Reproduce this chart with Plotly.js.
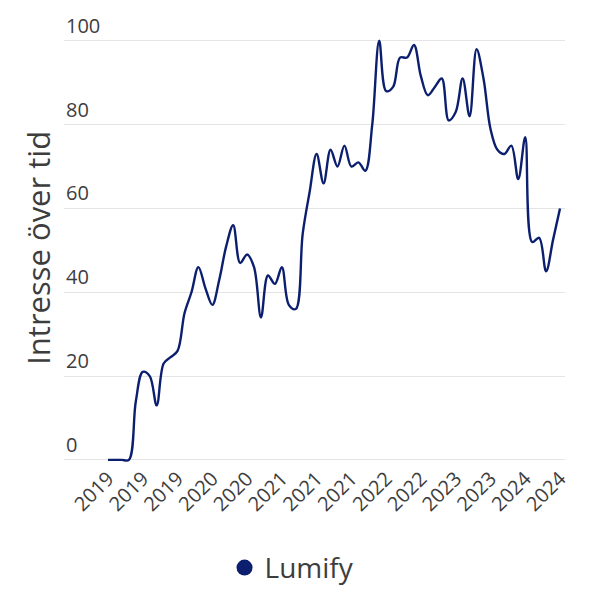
<!DOCTYPE html>
<html>
<head>
<meta charset="utf-8">
<script src="https://cdn.plot.ly/plotly-3.0.1.min.js"></script>
<style>
  html, body { margin: 0; padding: 0; background: #fff; }
  #chart { width: 596px; height: 594px; }
</style>
</head>
<body>
<div id="chart"></div>
<script>
// Monthly interest, Jan 2019 - Jun 2024
const months = [
  '2019-01','2019-02','2019-03','2019-04','2019-05','2019-06','2019-07','2019-08','2019-09','2019-10','2019-11','2019-12',
  '2020-01','2020-02','2020-03','2020-04','2020-05','2020-06','2020-07','2020-08','2020-09','2020-10','2020-11','2020-12',
  '2021-01','2021-02','2021-03','2021-04','2021-05','2021-06','2021-07','2021-08','2021-09','2021-10','2021-11','2021-12',
  '2022-01','2022-02','2022-03','2022-04','2022-05','2022-06','2022-07','2022-08','2022-09','2022-10','2022-11','2022-12',
  '2023-01','2023-02','2023-03','2023-04','2023-05','2023-06','2023-07','2023-08','2023-09','2023-10','2023-11','2023-12',
  '2024-01','2024-02','2024-03','2024-04','2024-05','2024-06'
];

const interest = [
  0, 0, 0, 0, 14, 21, 20, 13, 23, 24.5, 26, 35,
  40, 46, 41, 37, 43, 51, 56, 47, 49, 46, 34, 44,
  42, 46, 37, 36, 54, 64, 73, 66, 74, 70, 75, 70,
  71, 69, 80, 100, 88, 89, 96, 96, 99, 91.5, 87, 89,
  91, 81, 83, 91, 82, 98, 91, 79, 74, 73, 75, 67,
  77, 52, 53, 45, 52.5, 60
];

// x-axis tick labels (every fifth month)
const tickMonths = ['2019-01','2019-06','2019-11','2020-04','2020-09','2021-02','2021-07',
                    '2021-12','2022-05','2022-10','2023-03','2023-08','2024-01','2024-06'];
const tickYears  = ['2019','2019','2019','2020','2020','2021','2021',
                    '2021','2022','2022','2023','2023','2024','2024'];

const yTicks = [0, 20, 40, 60, 80, 100];

const seriesName = 'Lumify';
const yTitle = 'Intresse över tid';
const lineColor = '#0c1f6f';
const textColor = '#3d3d3d';

const traces = [
  {
    x: months,
    y: interest,
    type: 'scatter',
    mode: 'lines',
    line: { color: lineColor, width: 2.4, shape: 'spline', smoothing: 1 },
    cliponaxis: false,
    showlegend: false,
    hoverinfo: 'x+y'
  },
  {
    // legend entry only (dot marker)
    x: [null],
    y: [null],
    type: 'scatter',
    mode: 'markers',
    name: seriesName,
    marker: { color: lineColor, size: 16 }
  }
];

const layout = {
  width: 596,
  height: 594,
  paper_bgcolor: '#fff',
  plot_bgcolor: '#fff',
  font: { family: '"Open Sans", sans-serif', color: textColor },
  // plot area reaches above the 100 line so its raised label is kept
  margin: { t: 1, r: 31, b: 132, l: 64 },
  xaxis: {
    type: 'category',
    range: [-6.33, 65.72],
    tickvals: tickMonths,
    ticktext: tickYears,
    tickangle: -45,
    tickfont: { size: 20, color: textColor },
    ticklabelstandoff: 0,
    showgrid: false,
    zeroline: false,
    showline: false,
    ticks: '',
    automargin: false
  },
  yaxis: {
    range: [-0.5, 109.5],
    tickvals: yTicks,
    ticklabelposition: 'inside',
    ticklabelshift: -15,
    ticklabelstandoff: -1,
    tickfont: { size: 20, color: textColor },
    gridcolor: '#e4e4e4',
    gridwidth: 1,
    zeroline: false,
    showline: false,
    ticks: '',
    automargin: false
  },
  annotations: [
    {
      // y-axis title, centred on the 0-100 span
      text: yTitle,
      xref: 'paper', yref: 'paper',
      x: -0.052, y: 0.4645,
      xanchor: 'center', yanchor: 'middle',
      textangle: -90,
      showarrow: false,
      font: { size: 31, color: textColor }
    }
  ],
  showlegend: true,
  legend: {
    orientation: 'h',
    xref: 'container',
    yref: 'container',
    x: 0.49,
    xanchor: 'center',
    y: 0.044,
    yanchor: 'middle',
    font: { size: 28, color: textColor },
    itemsizing: 'trace'
  }
};

Plotly.newPlot('chart', traces, layout, { displayModeBar: false, staticPlot: true });
</script>
</body>
</html>
